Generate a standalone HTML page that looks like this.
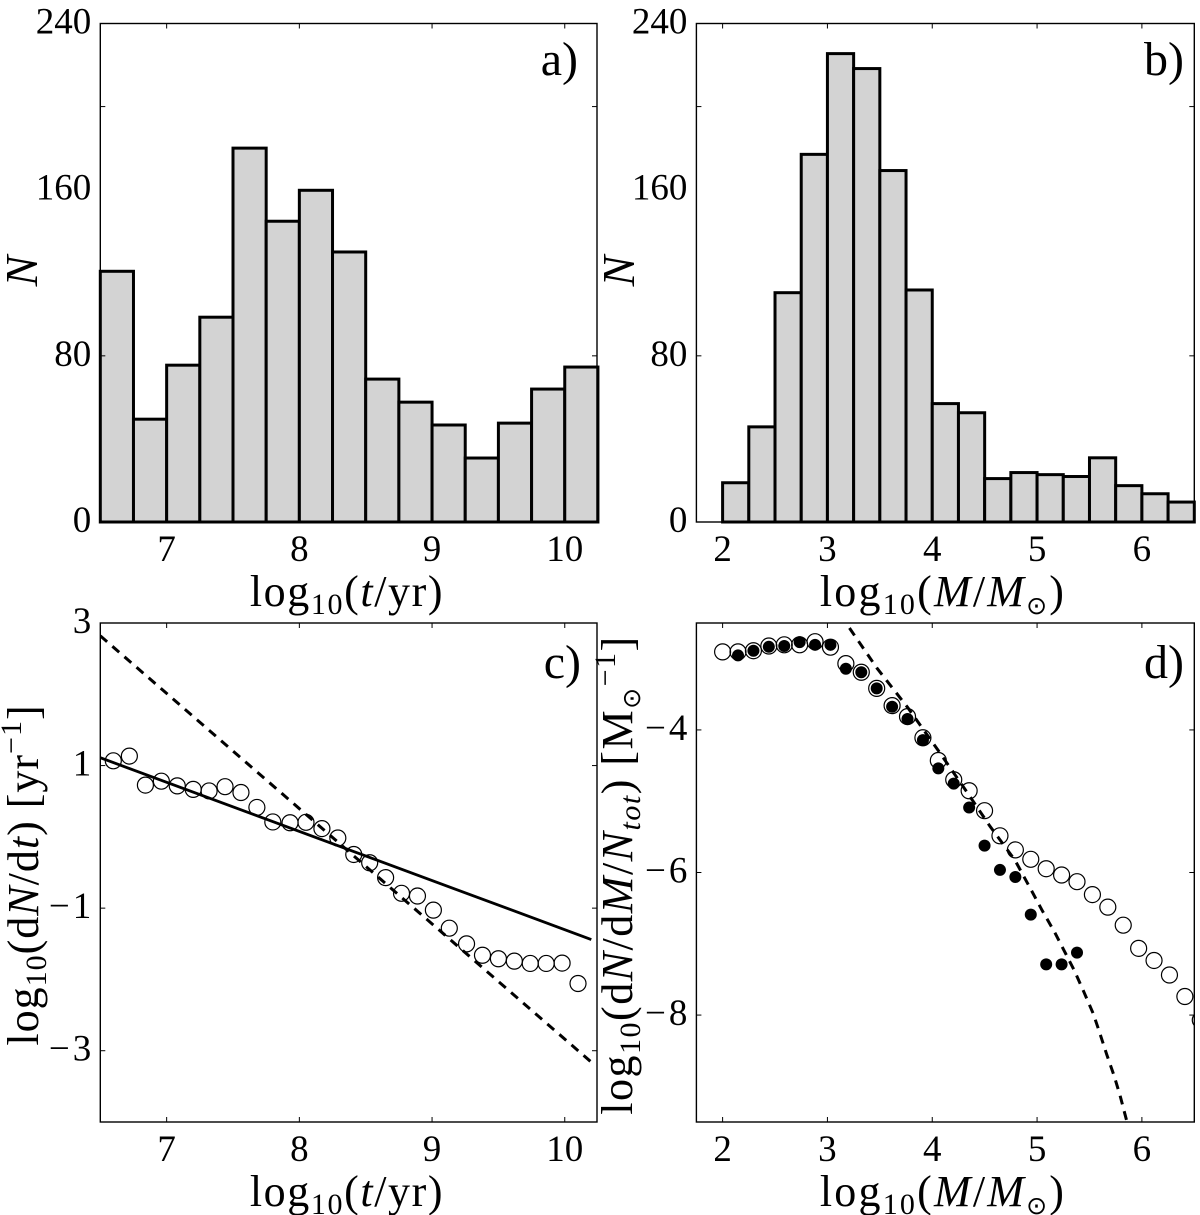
<!DOCTYPE html>
<html>
<head>
<meta charset="utf-8">
<title>Cluster age and mass distributions</title>
<style>
html,body{margin:0;padding:0;background:#fff;}
svg{display:block;}
text{font-family:"Liberation Serif","DejaVu Serif",serif;fill:#000;}
.tick{font-size:37px;}
.lab{font-size:44px;}
.tx{letter-spacing:1.6px;}
.tm{letter-spacing:2.2px;}
.ty{letter-spacing:1px;}
.td{letter-spacing:1.5px;}
.sub{font-size:30px;}
.sup{font-size:30px;}
.sun{font-family:"DejaVu Sans",sans-serif;font-size:25px;}
.it{font-style:italic;}
.big{font-size:46px;}
.pan{font-size:48px;}
</style>
</head>
<body>
<svg id="fig" xmlns="http://www.w3.org/2000/svg" width="1200" height="1215" viewBox="0 0 1200 1215">
<rect x="0" y="0" width="1200" height="1215" fill="#fff"/>
<defs>
<clipPath id="clip-c"><rect x="100.3" y="623" width="496.7" height="499"/></clipPath>
<clipPath id="clip-d"><rect x="696.4" y="623" width="497.9" height="499"/></clipPath>
</defs>
<g id="panel-a"></g>
<g id="panel-b"></g>
<g id="panel-c" ></g>
<g id="panel-d"></g>

<text class="pan" x="578" y="75" text-anchor="end">a)</text>
<text class="pan" x="1184" y="75" text-anchor="end">b)</text>
<text class="pan" x="581" y="678" text-anchor="end">c)</text>
<text class="pan" x="1184" y="678" text-anchor="end">d)</text>

<text class="lab tx" x="347" y="606" text-anchor="middle">log<tspan class="sub" dy="8">10</tspan><tspan dy="-8">(</tspan><tspan class="it">t</tspan>/yr)</text>
<text class="lab tm" x="943" y="606" text-anchor="middle">log<tspan class="sub" dy="8">10</tspan><tspan dy="-8">(</tspan><tspan class="it">M</tspan>/<tspan class="it">M</tspan><tspan class="sun" dy="8">⊙</tspan><tspan dy="-8">)</tspan></text>
<text class="lab tx" x="347" y="1206" text-anchor="middle">log<tspan class="sub" dy="8">10</tspan><tspan dy="-8">(</tspan><tspan class="it">t</tspan>/yr)</text>
<text class="lab tm" x="943" y="1206" text-anchor="middle">log<tspan class="sub" dy="8">10</tspan><tspan dy="-8">(</tspan><tspan class="it">M</tspan>/<tspan class="it">M</tspan><tspan class="sun" dy="8">⊙</tspan><tspan dy="-8">)</tspan></text>

<text class="big it" transform="translate(37,271) rotate(-90)" text-anchor="middle">N</text>
<text class="big it" transform="translate(634,271) rotate(-90)" text-anchor="middle">N</text>
<text class="lab ty" transform="translate(38,875) rotate(-90)" text-anchor="middle">log<tspan class="sub" dy="8">10</tspan><tspan dy="-8">(d</tspan><tspan class="it">N</tspan>/d<tspan class="it">t</tspan>) [yr<tspan class="sup" dy="-17">−1</tspan><tspan dy="17">]</tspan></text>
<text class="lab td" transform="translate(632,875) rotate(-90)" text-anchor="middle">log<tspan class="sub" dy="8">10</tspan><tspan dy="-8">(d</tspan><tspan class="it">N</tspan>/d<tspan class="it">M</tspan>/<tspan class="it">N</tspan><tspan class="sub it" dy="8">tot</tspan><tspan dy="-8">) [M</tspan><tspan class="sun" dy="8">⊙</tspan><tspan class="sup" dy="-25">−1</tspan><tspan dy="17">]</tspan></text>
</svg>
<script>
// Panel a: age histogram
const ageBinEdges = [6.5,6.75,7,7.25,7.5,7.75,8,8.25,8.5,8.75,9,9.25,9.5,9.75,10,10.25];
const ageCounts = [120.7,49.5,75.5,98.6,180,144.8,159.7,130,68.8,57.7,46.7,30.8,47.6,64,74.6];
// Panel b: mass histogram
const massBinEdges = [2,2.25,2.5,2.75,3,3.25,3.5,3.75,4,4.25,4.5,4.75,5,5.25,5.5,5.75,6,6.25,6.5];
const massCounts = [18.9,45.8,110.4,177,225.5,218.3,169.2,111.7,57,52.6,20.9,23.8,22.8,21.9,30.9,17.5,13.6,9.6];
// Panel c: age distribution
const rateAges = [6.598,6.719,6.84,6.96,7.08,7.20,7.32,7.44,7.56,7.68,7.80,7.93,8.05,8.17,8.29,8.41,8.53,8.65,8.77,8.89,9.01,9.13,9.26,9.38,9.50,9.62,9.74,9.86,9.98,10.10];
const rateValues = [1.067,1.133,0.726,0.781,0.715,0.666,0.644,0.704,0.622,0.413,0.209,0.198,0.204,0.116,-0.016,-0.247,-0.363,-0.572,-0.792,-0.830,-1.028,-1.281,-1.501,-1.661,-1.710,-1.743,-1.776,-1.776,-1.771,-2.057];
const fitAges = [6.5,10.2];
const solidFit = [1.11,-1.44];
const dashedFit = [2.82,-3.16];
// Panel d: mass functions
const openMasses = [2,2.147,2.294,2.441,2.588,2.735,2.882,3.029,3.176,3.323,3.47,3.617,3.764,3.911,4.058,4.205,4.352,4.499,4.646,4.793,4.94,5.087,5.234,5.381,5.528,5.675,5.822,5.969,6.116,6.263,6.41,6.557];
const openValues = [-2.905,-2.905,-2.889,-2.823,-2.806,-2.806,-2.762,-2.839,-3.070,-3.191,-3.417,-3.659,-3.813,-4.110,-4.429,-4.699,-4.853,-5.133,-5.485,-5.683,-5.815,-5.947,-6.035,-6.129,-6.310,-6.486,-6.739,-7.064,-7.234,-7.438,-7.740,-8.070];
const filledMasses = [2.147,2.294,2.441,2.588,2.735,2.882,3.029,3.176,3.323,3.47,3.617,3.764,3.911,4.058,4.205,4.352,4.499,4.646,4.793,4.94,5.087,5.234,5.381];
const filledValues = [-2.955,-2.889,-2.834,-2.823,-2.768,-2.806,-2.806,-3.142,-3.191,-3.417,-3.675,-3.846,-4.143,-4.539,-4.754,-5.089,-5.623,-5.964,-6.063,-6.591,-7.289,-7.289,-7.124];
const curveMasses = [3.21,3.474,3.766,4.058,4.33,4.55,4.79,4.953,5.044,5.172,5.354,5.445,5.536,5.591,5.664,5.737,5.792,5.858];
const curveValues = [-2.57,-3.136,-3.686,-4.29,-4.87,-5.35,-5.83,-6.27,-6.52,-6.85,-7.37,-7.67,-7.98,-8.22,-8.55,-8.86,-9.13,-9.5];
// Tick values
const ageTicks = ['7','8','9','10'];
const massTicks = ['2','3','4','5','6'];
const countTicks = [0,80,160,240];
const countMarks = [80,200];
const rateTicks = [3,1,-1,-3];
const massFnTicks = [-4,-6,-8];

const NS = 'http://www.w3.org/2000/svg';
function mk(parent, tag, attrs){
  const el = document.createElementNS(NS, tag);
  for (const k in attrs) el.setAttribute(k, attrs[k]);
  parent.appendChild(el);
  return el;
}
function scale(d0, d1, r0, r1){ return v => r0 + (v - d0) * (r1 - r0) / (d1 - d0); }

const boxA = {L:100.3,R:597,T:23.5,B:522};
const boxB = {L:696.4,R:1194.3,T:23.5,B:522};
const boxC = {L:100.3,R:597,T:623,B:1122};
const boxD = {L:696.4,R:1194.3,T:623,B:1122};
const xAge = b => scale(6.5,10.243,b.L,b.R);
const xMass = b => scale(1.75,6.5,b.L,b.R);

function frame(g, b, xf, xticks, yf, ymarks, yticks, axisName){
  for (const t of xticks){
    const x = xf(+t);
    const t1 = mk(g,'line',{x1:x,x2:x,y1:b.B,y2:b.B-5,stroke:'#000','stroke-width':1});
    
    
    const t2 = mk(g,'line',{x1:x,x2:x,y1:b.T,y2:b.T+5,stroke:'#000','stroke-width':1});
    
    
    const lab = mk(g,'text',{x:x,y:b.B+39,'text-anchor':'middle','class':'tick'});
    
    
    lab.textContent = t;
  }
  for (const v of ymarks){
    const y = yf(v);
    const t1 = mk(g,'line',{x1:b.L,x2:b.L+5,y1:y,y2:y,stroke:'#000','stroke-width':1});
    
    
    const t2 = mk(g,'line',{x1:b.R,x2:b.R-5,y1:y,y2:y,stroke:'#000','stroke-width':1});
    
    
  }
  for (const v of yticks){
    const lab = mk(g,'text',{x:b.L-9,y:yf(v)+10,'text-anchor':'end','class':'tick'});
    
    
    if (v < 0){
      lab.setAttribute('x', b.L-9+3);
      lab.setAttribute('style', 'letter-spacing:3px');
    }
    lab.textContent = String(v).replace('-', '\u2212');
  }
  const r = mk(g,'rect',{x:b.L,y:b.T,width:b.R-b.L,height:b.B-b.T,fill:'none',stroke:'#000','stroke-width':1.4});
  
  
}
function hist(g, b, xf, yf, edges, counts, name){
  counts.forEach((c, i) => {
    const x0 = xf(edges[i]), x1 = xf(edges[i+1]), y = yf(c);
    const bar = mk(g,'rect',{x:x0,y:y,width:x1-x0,height:b.B-y,fill:'#d3d3d3',stroke:'#000','stroke-width':3});
    
    
  });
}
function pathOf(xs, ys, xf, yf){
  return xs.map((v,i) => (i?'L':'M') + xf(v).toFixed(2) + ' ' + yf(ys[i]).toFixed(2)).join(' ');
}

// Panel a
(function(){
  const g = document.getElementById('panel-a');
  const xf = xAge(boxA), yf = scale(0,240,boxA.B,boxA.T);
  hist(g, boxA, xf, yf, ageBinEdges, ageCounts, 'age-histogram');
  frame(g, boxA, xf, ageTicks, yf, countMarks, countTicks, 'panel-a');
})();
// Panel b
(function(){
  const g = document.getElementById('panel-b');
  const xf = xMass(boxB), yf = scale(0,240,boxB.B,boxB.T);
  hist(g, boxB, xf, yf, massBinEdges, massCounts, 'mass-histogram');
  frame(g, boxB, xf, massTicks, yf, countMarks, countTicks, 'panel-b');
})();
// Panel c
(function(){
  const g = document.getElementById('panel-c');
  const xf = xAge(boxC), yf = scale(-4,3,boxC.B,boxC.T);
  const clip = mk(g,'g',{'clip-path':'url(#clip-c)'});
  
  
  const solid = mk(clip,'path',{d:pathOf(fitAges,solidFit,xf,yf),fill:'none',stroke:'#000','stroke-width':2.8});
  
  
  const dashed = mk(clip,'path',{d:pathOf(fitAges,dashedFit,xf,yf),fill:'none',stroke:'#000','stroke-width':3,'stroke-dasharray':'9 7'});
  
  
  rateAges.forEach((a,i) => {
    const c = mk(clip,'circle',{cx:xf(a),cy:yf(rateValues[i]),r:8,fill:'none',stroke:'#000','stroke-width':1.2});
    
    
  });
  frame(g, boxC, xf, ageTicks, yf, rateTicks, rateTicks, 'panel-c');
})();
// Panel d
(function(){
  const g = document.getElementById('panel-d');
  const xf = xMass(boxD), yf = scale(-9.5,-2.5,boxD.B,boxD.T);
  const clip = mk(g,'g',{'clip-path':'url(#clip-d)'});
  
  
  const dashed = mk(clip,'path',{d:pathOf(curveMasses,curveValues,xf,yf),fill:'none',stroke:'#000','stroke-width':3,'stroke-dasharray':'9 7'});
  
  
  openMasses.forEach((m,i) => {
    const c = mk(clip,'circle',{cx:xf(m),cy:yf(openValues[i]),r:8,fill:'none',stroke:'#000','stroke-width':1.2});
    
    
  });
  filledMasses.forEach((m,i) => {
    const c = mk(clip,'circle',{cx:xf(m),cy:yf(filledValues[i]),r:6,fill:'#000'});
    
    
  });
  frame(g, boxD, xf, massTicks, yf, massFnTicks, massFnTicks, 'panel-d');
})();
</script>
</body>
</html>
